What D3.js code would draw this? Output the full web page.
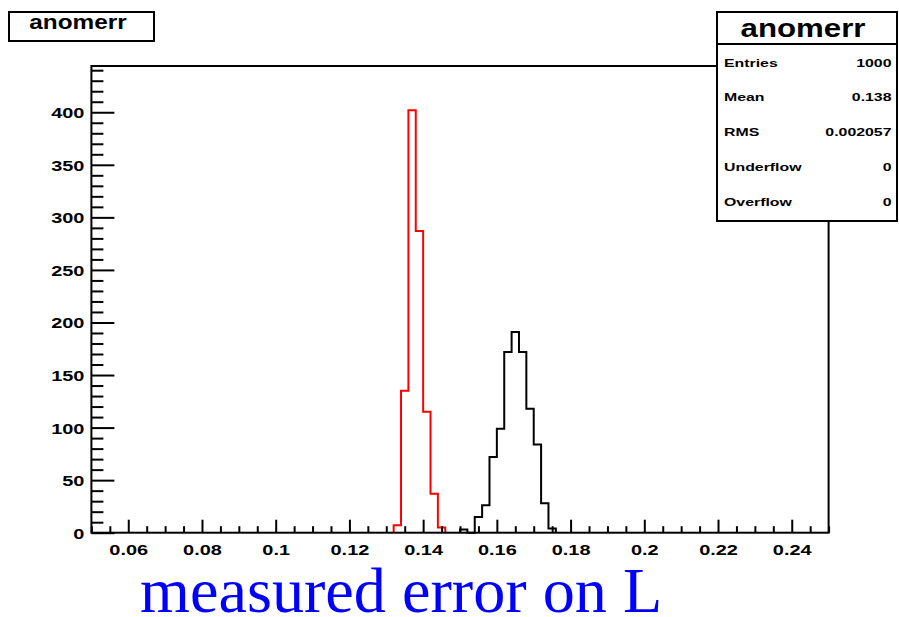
<!DOCTYPE html>
<html><head><meta charset="utf-8">
<script src="https://cdn.jsdelivr.net/npm/d3@7"></script>
<style>body{margin:0;background:#fff}</style>
</head><body>
<svg id="c" width="899" height="617"></svg>
<script>
// ---- data ----
const histTitle = "anomerr";
const xLabel = "measured error on L";
const xMajorTicks = [0.06, 0.08, 0.10, 0.12, 0.14, 0.16, 0.18, 0.20, 0.22, 0.24];
const xTickLabels = ["0.06", "0.08", "0.1", "0.12", "0.14", "0.16", "0.18", "0.2", "0.22", "0.24"];
const yMajorTicks = [0, 50, 100, 150, 200, 250, 300, 350, 400];
const yTickLabels = ["0", "50", "100", "150", "200", "250", "300", "350", "400"];
const redBinEdges = [0.132, 0.134, 0.136, 0.138, 0.140, 0.142, 0.144, 0.146];
const redCounts = [7, 135, 402, 287, 115, 37, 5];
const blackBinEdges = [0.150, 0.152, 0.154, 0.156, 0.158, 0.160, 0.162, 0.164, 0.166, 0.168, 0.170, 0.172, 0.174, 0.176];
const blackCounts = [3, 0, 15, 26, 72, 99, 172, 191, 172, 118, 84, 28, 4];
const statNames = ["Entries", "Mean", "RMS", "Underflow", "Overflow"];
const statValues = ["1000", "0.138", "0.002057", "0", "0"];

// ---- layout ----
const svg = d3.select("#c");
const F = "'Liberation Sans', Arial, Helvetica, sans-serif";
const x = d3.scaleLinear().domain([0.05, 0.25]).range([91.4, 828.6]);
const y = d3.scaleLinear().domain([0, 444]).range([532.7, 66]);
const xMinor = d3.range(0.05, 0.2501, 0.005).filter(v => !xMajorTicks.some(m => Math.abs(m - v) < 1e-9));
const yMinor = d3.range(0, 441, 10).filter(v => v % 50 !== 0);

// histograms
function stepData(edges, counts) {
  const pts = [{x: edges[0], y: 0}];
  counts.forEach((c, i) => pts.push({x: edges[i], y: c}));
  pts.push({x: edges[edges.length - 1], y: counts[counts.length - 1]});
  pts.push({x: edges[edges.length - 1], y: 0});
  return pts;
}
const line = d3.line().x(d => x(d.x)).y(d => y(d.y)).curve(d3.curveStepAfter);
svg.append("path").datum(stepData(redBinEdges, redCounts))
  .attr("d", line).attr("fill", "none").attr("stroke", "#ff0000").attr("stroke-width", 2);
svg.append("path").datum(stepData(blackBinEdges, blackCounts))
  .attr("d", line).attr("fill", "none").attr("stroke", "#000").attr("stroke-width", 2);

// frame
svg.append("rect").attr("x", x.range()[0]).attr("y", y.range()[1])
  .attr("width", x.range()[1] - x.range()[0]).attr("height", y.range()[0] - y.range()[1])
  .attr("fill", "none").attr("stroke", "#000").attr("stroke-width", 2);

// axes
function styleAxis(g) {
  g.select(".domain").remove();
  g.selectAll(".tick line").attr("stroke", "#000").attr("stroke-width", 2);
  g.attr("font-family", F).attr("font-size", 15).attr("font-weight", "bold");
}
const gxMin = svg.append("g").attr("transform", `translate(0,${y(0)})`)
  .call(d3.axisBottom(x).tickValues(xMinor).tickSize(-6.5).tickFormat(""));
styleAxis(gxMin);
gxMin.selectAll(".tick text").remove();
const gx = svg.append("g").attr("transform", `translate(0,${y(0)})`)
  .call(d3.axisBottom(x).tickValues(xMajorTicks).tickSize(-13)
    .tickFormat(d => xTickLabels[xMajorTicks.indexOf(d)]));
styleAxis(gx);
gx.selectAll(".tick text").attr("y", null).attr("dy", null).attr("fill", "#000")
  .attr("transform", "translate(0,22) scale(1.33,1)");

const gyMin = svg.append("g").attr("transform", `translate(${x(0.05)},0)`)
  .call(d3.axisLeft(y).tickValues(yMinor).tickSize(-12).tickFormat(""));
styleAxis(gyMin);
gyMin.selectAll(".tick text").remove();
const gy = svg.append("g").attr("transform", `translate(${x(0.05)},0)`)
  .call(d3.axisLeft(y).tickValues(yMajorTicks).tickSize(-23)
    .tickFormat(d => yTickLabels[yMajorTicks.indexOf(d)]));
styleAxis(gy);
gy.selectAll(".tick text").attr("x", null).attr("dy", null).attr("fill", "#000")
  .attr("transform", "translate(-7,5.5) scale(1.33,1)");

// title box (top-left)
svg.append("rect").attr("x", 9).attr("y", 12).attr("width", 145).attr("height", 29)
  .attr("fill", "#fff").attr("stroke", "#000").attr("stroke-width", 2);
svg.append("text").text(histTitle)
  .attr("transform", "translate(78,28.5) scale(1.16,1)")
  .attr("text-anchor", "middle").attr("font-family", F).attr("font-weight", "bold").attr("font-size", 21);

// stats box
const sb = svg.append("g");
sb.append("rect").attr("x", 717).attr("y", 12).attr("width", 180).attr("height", 209)
  .attr("fill", "#fff").attr("stroke", "#000").attr("stroke-width", 2);
sb.append("line").attr("x1", 717).attr("x2", 897).attr("y1", 44).attr("y2", 44)
  .attr("stroke", "#000").attr("stroke-width", 2);
sb.append("text").text(histTitle)
  .attr("transform", "translate(803,36.5) scale(1.2,1)")
  .attr("text-anchor", "middle").attr("font-family", F).attr("font-weight", "bold").attr("font-size", 26);
const rowY = d3.scalePoint().domain(statNames).range([66.5, 206]);
statNames.forEach((n, i) => {
  sb.append("text").text(n)
    .attr("transform", `translate(724,${rowY(n)}) scale(1.38,1)`)
    .attr("font-family", F).attr("font-weight", "bold").attr("font-size", 11.5);
  sb.append("text").text(statValues[i])
    .attr("transform", `translate(891.5,${rowY(n)}) scale(1.38,1)`)
    .attr("text-anchor", "end")
    .attr("font-family", F).attr("font-weight", "bold").attr("font-size", 11.5);
});

// x label
svg.append("text").text(xLabel)
  .attr("x", 140).attr("y", 611.5)
  .attr("font-family", "'Liberation Serif', 'Times New Roman', Times, serif")
  .attr("font-size", 64.2).attr("fill", "#0000ff");
</script>
</body></html>
